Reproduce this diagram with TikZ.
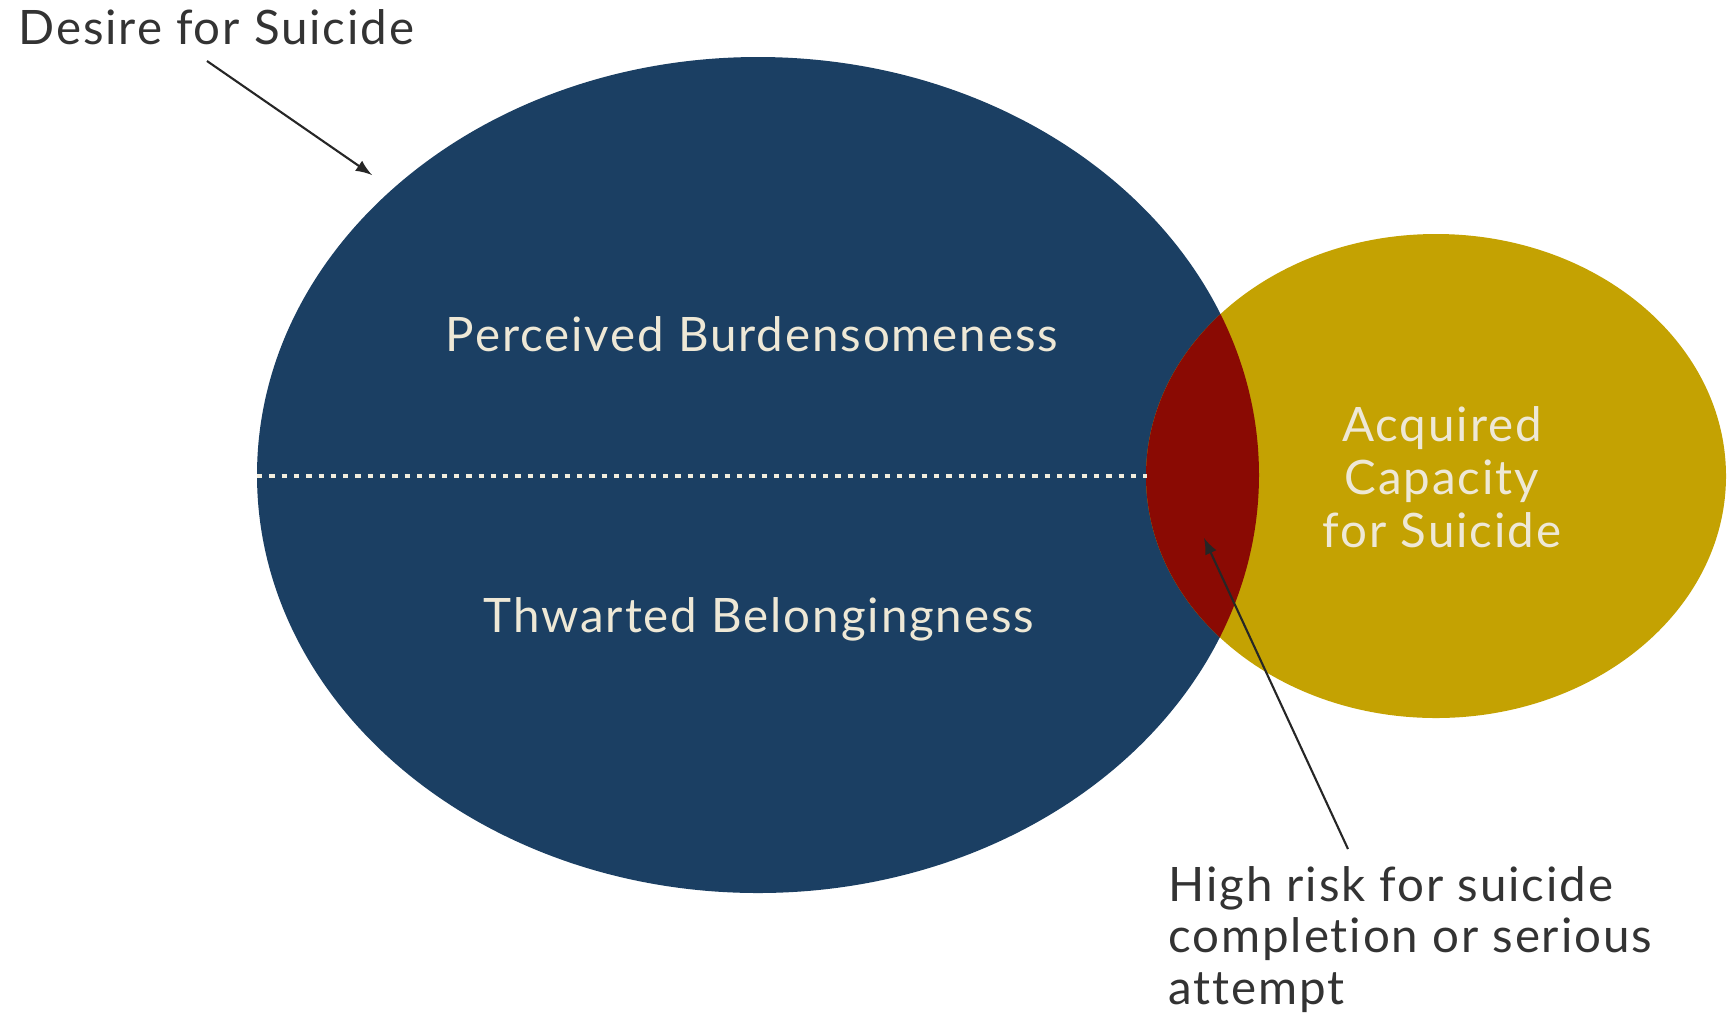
\documentclass[tikz,border=0pt]{standalone}
\usepackage{fontspec}
\setmainfont[LetterSpace=4,Ligatures={NoCommon,NoContextual}]{Lato}
\usepackage{xcolor}
\usetikzlibrary{arrows}
\definecolor{desireblue}{HTML}{1B3F63}
\definecolor{capgold}{HTML}{C4A202}
\definecolor{riskred}{HTML}{8A0A03}
\definecolor{lighttext}{HTML}{EEE8D6}
\definecolor{darktext}{HTML}{333333}

\begin{document}
\begin{tikzpicture}[x=0.01cm,y=-0.01cm,
	intext/.style={text=lighttext,font=\fontsize{13.5}{15}\selectfont,align=center},
	outtext/.style={text=darktext,font=\fontsize{13.5}{14.6}\selectfont,align=left},
	pointer/.style={->,>=latex,line width=0.6pt,draw=black!85}]
	\useasboundingbox (0,0) rectangle (1733,1014);
	% the two circles and their overlap
	\fill[desireblue] (758,475) ellipse (501 and 418);
	\fill[capgold] (1436,476) ellipse (290 and 242);
	\begin{scope}
		\clip (758,475) ellipse (501 and 418);
		\fill[riskred] (1436,476) ellipse (290 and 242);
	\end{scope}
	\coordinate (d1) at (257,476);
	\coordinate (d2) at (1147,476);
	\draw[lighttext!80,line width=1.2pt,dash pattern=on 1.5pt off 2pt] (d1) -- (d2);
	% labels
	\node[intext] (pb) at (752,334) {Perceived Burdensomeness};
	\node[intext] (tb) at (759,619) {Thwarted Belongingness};
	\node[intext] (ac) at (1442,477) {Acquired\\Capacity\\for Suicide};
	\node[outtext,anchor=west] (ds) at (6,27) {Desire for Suicide};
	\node[outtext,anchor=north west] (hr) at (1156,854) {High risk for suicide\\completion or serious\\attempt};
	\coordinate (ds1) at (207,61);
	\coordinate (ds2) at (372,175);
	\coordinate (hr1) at (1348,849);
	\coordinate (hr2) at (1204,538);
	\draw [pointer] (ds1) -- (ds2);
	\draw [pointer] (hr1) -- (hr2);
\end{tikzpicture}
\end{document}
